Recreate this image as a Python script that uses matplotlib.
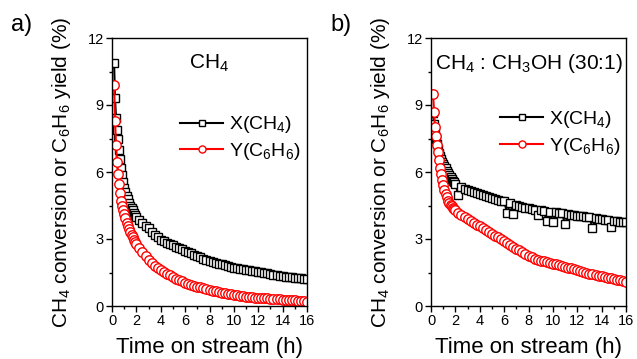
import numpy as np
import matplotlib
matplotlib.use('Agg')
import matplotlib.pyplot as plt
from matplotlib.ticker import MultipleLocator

plt.rcParams['font.family'] = ['Liberation Sans', 'DejaVu Sans']
plt.rcParams['mathtext.fontset'] = 'custom'
plt.rcParams['mathtext.rm'] = 'Liberation Sans'
plt.rcParams['mathtext.it'] = 'Liberation Sans:italic'
plt.rcParams['mathtext.default'] = 'regular'

# time on stream (h), shared by all series
time_h = [0.17, 0.25, 0.33, 0.42, 0.5, 0.58, 0.67, 0.75, 0.83, 0.92,
          1.0, 1.1, 1.2, 1.3, 1.4, 1.5, 1.6, 1.7, 1.8, 1.9,
          2.0, 2.25, 2.5, 2.75, 3.0, 3.25, 3.5, 3.75, 4.0, 4.25,
          4.5, 4.75, 5.0, 5.25, 5.5, 5.75, 6.0, 6.25, 6.5, 6.75,
          7.0, 7.25, 7.5, 7.75, 8.0, 8.25, 8.5, 8.75, 9.0, 9.25,
          9.5, 9.75, 10.0, 10.25, 10.5, 10.75, 11.0, 11.25, 11.5, 11.75,
          12.0, 12.25, 12.5, 12.75, 13.0, 13.25, 13.5, 13.75, 14.0, 14.25,
          14.5, 14.75, 15.0, 15.25, 15.5, 15.75, 16.0]

# a) CH4 feed
x_ch4_a = [10.9, 9.3, 8.4, 7.9, 7.5, 7.0, 6.6, 6.2, 5.85, 5.55,
           5.3, 5.1, 4.93, 4.77, 4.63, 4.5, 4.38, 4.28, 4.18, 4.08,
           4.0, 3.85, 3.72, 3.6, 3.48, 3.33, 3.2, 3.08, 2.96, 2.9,
           2.84, 2.78, 2.72, 2.66, 2.6, 2.54, 2.48, 2.42, 2.36, 2.3,
           2.24, 2.18, 2.12, 2.06, 2.0, 1.97, 1.94, 1.9, 1.86, 1.82,
           1.78, 1.74, 1.7, 1.68, 1.66, 1.64, 1.61, 1.59, 1.57, 1.55,
           1.53, 1.51, 1.48, 1.46, 1.43, 1.41, 1.38, 1.36, 1.34, 1.32,
           1.3, 1.28, 1.26, 1.25, 1.24, 1.22, 1.2]
y_c6h6_a = [9.9, 8.3, 7.2, 6.45, 5.9, 5.45, 5.05, 4.72, 4.5, 4.3,
            4.12, 3.92, 3.72, 3.57, 3.43, 3.3, 3.18, 3.07, 2.97, 2.87,
            2.78, 2.59, 2.41, 2.24, 2.08, 1.93, 1.81, 1.7, 1.6, 1.52,
            1.44, 1.37, 1.3, 1.23, 1.17, 1.11, 1.05, 1.0, 0.95, 0.91,
            0.87, 0.83, 0.79, 0.75, 0.72, 0.69, 0.66, 0.63, 0.6, 0.57,
            0.54, 0.52, 0.5, 0.48, 0.46, 0.44, 0.42, 0.41, 0.39, 0.38,
            0.37, 0.36, 0.35, 0.34, 0.33, 0.32, 0.31, 0.3, 0.29, 0.28,
            0.27, 0.26, 0.25, 0.24, 0.23, 0.21, 0.19]

# b) CH4 : CH3OH (30:1) feed
x_ch4_b = [8.65, 8.15, 7.8, 7.5, 7.25, 7.05, 6.85, 6.7, 6.58, 6.47,
           6.38, 6.28, 6.17, 6.05, 5.95, 5.87, 5.78, 5.68, 5.6, 5.53,
           5.47, 4.97, 5.32, 5.26, 5.2, 5.15, 5.1, 5.05, 5.0, 4.96,
           4.92, 4.88, 4.84, 4.8, 4.76, 4.72, 4.68, 4.17, 4.6, 4.1,
           4.52, 4.48, 4.44, 4.4, 4.37, 4.34, 4.32, 4.08, 4.28, 4.26,
           3.8, 4.22, 3.78, 4.19, 4.17, 4.15, 3.66, 4.11, 4.09, 4.07,
           4.05, 4.03, 4.01, 3.99, 3.97, 3.5, 3.93, 3.91, 3.89, 3.87,
           3.85, 3.55, 3.81, 3.79, 3.77, 3.76, 3.74]
y_c6h6_b = [9.5, 8.7, 8.0, 7.6, 7.2, 6.9, 6.55, 6.2, 5.9, 5.65,
            5.42, 5.2, 5.02, 4.86, 4.72, 4.62, 4.53, 4.46, 4.4, 4.34,
            4.28, 4.18, 4.09, 4.0, 3.91, 3.82, 3.73, 3.64, 3.56, 3.48,
            3.39, 3.31, 3.23, 3.15, 3.07, 2.98, 2.9, 2.82, 2.73, 2.65,
            2.57, 2.49, 2.41, 2.33, 2.26, 2.19, 2.12, 2.06, 2.03, 2.0,
            1.96, 1.93, 1.9, 1.86, 1.82, 1.79, 1.75, 1.72, 1.68, 1.65,
            1.61, 1.57, 1.53, 1.49, 1.45, 1.42, 1.39, 1.36, 1.33, 1.3,
            1.27, 1.24, 1.21, 1.18, 1.15, 1.12, 1.09]

panels = [('a)', r'CH$_4$', x_ch4_a, y_c6h6_a),
          ('b)', r'CH$_4$ : CH$_3$OH (30:1)', x_ch4_b, y_c6h6_b)]
lefts = [112/637, 431/637]
leg_anchor = [(0.35, 0.715), (0.355, 0.735)]

fig = plt.figure(figsize=(6.37, 3.59), dpi=100)

for i in range(2):
    tag, title, xs, ys = panels[i]
    ax = fig.add_axes([lefts[i], 53/359, 195/637, 268/359])
    ax.plot(time_h, xs, color='black', lw=1.5, marker='s', ms=6.3,
            mfc='white', mec='black', mew=1.0, label=r'X(CH$_4$)')
    ax.plot(time_h, ys, color='#ff0000', lw=1.5, marker='o', ms=6.8,
            mfc='white', mec='#ff0000', mew=1.0, label=r'Y(C$_6$H$_6$)')
    ax.set_xlim(0, 16)
    ax.set_ylim(0, 12)
    ax.xaxis.set_major_locator(MultipleLocator(2))
    ax.xaxis.set_minor_locator(MultipleLocator(1))
    ax.yaxis.set_major_locator(MultipleLocator(3))
    ax.yaxis.set_minor_locator(MultipleLocator(1.5))
    ax.tick_params(which='both', direction='out', top=False, right=False,
                   labelsize=10.5, width=1)
    ax.tick_params(which='major', length=4, pad=2)
    ax.tick_params(which='minor', length=2.5)
    for sp in ax.spines.values():
        sp.set_linewidth(1)
    ax.set_xlabel('Time on stream (h)', fontsize=16)
    ax.set_ylabel(r'CH$_4$ conversion or C$_6$H$_6$ yield (%)', fontsize=15)
    ax.xaxis.set_label_coords(0.5, -0.115)
    ax.yaxis.set_label_coords(-0.2, 0.5)
    ax.text(0.5, 0.905, title, transform=ax.transAxes, fontsize=15,
            ha='center', va='center')
    ax.legend(loc='upper left', bbox_to_anchor=leg_anchor[i], frameon=False,
              fontsize=14, handlelength=2.2, handletextpad=0.3,
              labelspacing=0.3, borderaxespad=0, borderpad=0, numpoints=1,
              markerscale=0.75)
    fig.text(lefts[i] - (112 - 22)/637, 1 - 25/359, tag, fontsize=17,
             ha='center', va='center')

fig.savefig('out.png', dpi=100)
